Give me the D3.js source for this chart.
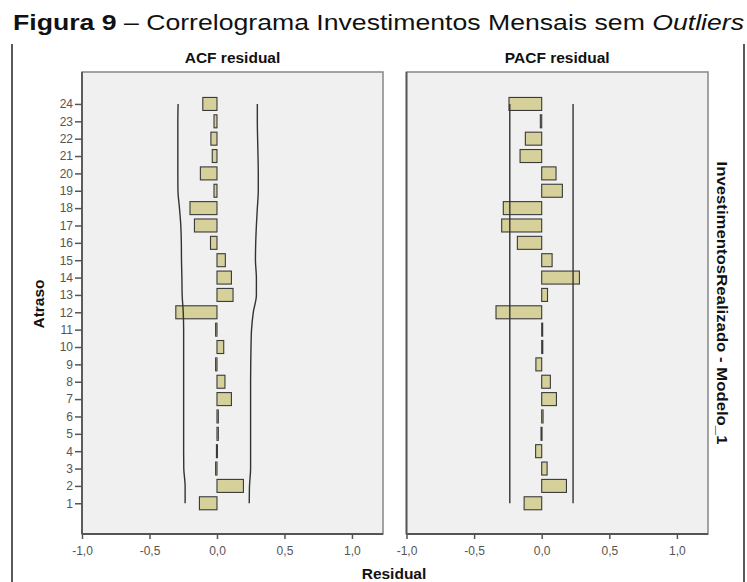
<!DOCTYPE html>
<html>
<head>
<meta charset="utf-8">
<script src="https://cdn.jsdelivr.net/npm/d3@7"></script>
<style>
  body { margin: 0; background: #fff; }
  svg { display: block; }
  text { font-family: "Liberation Sans", Arial, sans-serif; }
</style>
</head>
<body>
<svg id="chart" width="747" height="582"></svg>
<script>
// Lags (1..24) shown on the vertical axis
const lags = [1, 2, 3, 4, 5, 6, 7, 8, 9, 10, 11, 12, 13, 14, 15, 16, 17, 18, 19, 20, 21, 22, 23, 24];

// Residual autocorrelations by lag
const acfValues = [-0.13, 0.196, -0.01, -0.004, 0.01, 0.01, 0.107, 0.059, -0.01, 0.05, -0.01, -0.305,
                   0.119, 0.107, 0.062, -0.048, -0.167, -0.2, -0.022, -0.123, -0.035, -0.045, -0.022, -0.105];
// ACF confidence limits by lag
const acfUpper = [0.239, 0.241, 0.249, 0.249, 0.249, 0.249, 0.249, 0.249, 0.250, 0.252, 0.256, 0.269,
                  0.292, 0.292, 0.285, 0.287, 0.292, 0.299, 0.306, 0.306, 0.304, 0.301, 0.299, 0.299];
const acfLower = [-0.236, -0.236, -0.246, -0.247, -0.247, -0.247, -0.247, -0.247, -0.247, -0.247, -0.247, -0.25,
                  -0.258, -0.26, -0.263, -0.264, -0.268, -0.278, -0.289, -0.29, -0.29, -0.29, -0.29, -0.288];

// Residual partial autocorrelations by lag
const pacfValues = [-0.13, 0.183, 0.04, -0.045, -0.005, 0.01, 0.109, 0.064, -0.043, 0.008, 0.004, -0.338,
                    0.043, 0.279, 0.077, -0.18, -0.296, -0.284, 0.153, 0.106, -0.16, -0.121, -0.01, -0.242];
// PACF confidence limits (constant over lags)
const pacfUpper = 0.232;
const pacfLower = -0.236;

// Horizontal axis ticks
const xTicks = [-1, -0.5, 0, 0.5, 1];

const locale = d3.formatLocale({ decimal: ",", thousands: ".", grouping: [3], currency: ["", ""], minus: "-" });
const fmt = locale.format(".1f");

const svg = d3.select("#chart");

const plotTop = 72, plotBottom = 534;
const y = d3.scaleLinear().domain([-0.77, 25.84]).range([plotBottom, plotTop]);
const barH = 13;

const panels = [
  { title: "ACF residual", values: acfValues, upper: acfUpper, lower: acfLower,
    x: d3.scaleLinear().domain([-1, 1.23]).range([82, 383]), leftAxis: true },
  { title: "PACF residual", values: pacfValues,
    upper: lags.map(() => pacfUpper), lower: lags.map(() => pacfLower),
    x: d3.scaleLinear().domain([-1, 1.23]).range([406.5, 708]), leftAxis: false }
];

// Outer frame sides
svg.append("line").attr("x1", 12).attr("x2", 12).attr("y1", 44).attr("y2", 582)
  .attr("stroke", "#222").attr("stroke-width", 1.5);
svg.append("line").attr("x1", 744).attr("x2", 744).attr("y1", 44).attr("y2", 582)
  .attr("stroke", "#222").attr("stroke-width", 1.5);

// Title
svg.append("text")
  .attr("x", 13).attr("y", 30)
  .attr("font-size", 22).attr("fill", "#111")
  .attr("textLength", 731).attr("lengthAdjust", "spacingAndGlyphs")
  .call(t => {
    t.append("tspan").attr("font-weight", "bold").text("Figura 9");
    t.append("tspan").text(" – Correlograma Investimentos Mensais sem ");
    t.append("tspan").attr("font-style", "italic").text("Outliers");
  });

panels.forEach(p => {
  const x = p.x;
  const [x0, x1] = x.range();
  const g = svg.append("g");

  g.append("rect")
    .attr("x", x0).attr("y", plotTop)
    .attr("width", x1 - x0).attr("height", plotBottom - plotTop)
    .attr("fill", "#f0f0f0").attr("stroke", "#8e8e8e").attr("stroke-width", 1.6);

  g.append("text")
    .attr("x", (x0 + x1) / 2).attr("y", 63)
    .attr("text-anchor", "middle").attr("font-weight", "bold")
    .attr("font-size", 15.5).attr("fill", "#111")
    .text(p.title);

  // Bars
  g.selectAll("rect.bar").data(lags).join("rect")
    .attr("class", "bar")
    .attr("x", (d, i) => Math.min(x(0), x(p.values[i])))
    .attr("width", (d, i) => Math.max(1, Math.abs(x(p.values[i]) - x(0))))
    .attr("y", d => y(d) - barH / 2)
    .attr("height", barH)
    .attr("fill", "#d6d09b").attr("stroke", "#3a3a3a").attr("stroke-width", 1.1);

  // Confidence limits
  const line = d3.line().x(d => x(d[0])).y(d => y(d[1])).curve(d3.curveMonotoneY);
  [p.upper, p.lower].forEach(arr => {
    g.append("path")
      .datum(lags.map((l, i) => [arr[i], l]))
      .attr("d", line)
      .attr("fill", "none").attr("stroke", "#333").attr("stroke-width", 1.4);
  });

  // Bottom axis
  const ax = g.append("g").attr("transform", `translate(0,${plotBottom})`)
    .call(d3.axisBottom(x).tickValues(xTicks).tickSize(5).tickSizeOuter(0).tickFormat(fmt));
  ax.select(".domain").remove();
  ax.selectAll(".tick line").attr("stroke", "#555").attr("stroke-width", 1.5);
  ax.selectAll(".tick text").attr("font-size", 12).attr("fill", "#555")
    .attr("font-family", "'Liberation Sans', Arial, sans-serif").attr("dy", "1.05em");

  g.append("line").attr("x1", x0).attr("x2", x1).attr("y1", plotBottom).attr("y2", plotBottom)
    .attr("stroke", "#555").attr("stroke-width", 1.8);
  g.append("line").attr("x1", x0).attr("x2", x0).attr("y1", plotTop).attr("y2", plotBottom)
    .attr("stroke", "#555").attr("stroke-width", 1.8);

  if (p.leftAxis) {
    const ay = g.append("g").attr("transform", `translate(${x0},0)`)
      .call(d3.axisLeft(y).tickValues(lags).tickSize(7).tickSizeOuter(0).tickFormat(d3.format("d")));
    ay.select(".domain").remove();
    ay.selectAll(".tick line").attr("stroke", "#555").attr("stroke-width", 1.5);
    ay.selectAll(".tick text").attr("font-size", 12).attr("fill", "#555")
      .attr("font-family", "'Liberation Sans', Arial, sans-serif").attr("x", -9);
  }
});

// Axis titles
svg.append("text")
  .attr("transform", "translate(44,304) rotate(-90)")
  .attr("text-anchor", "middle").attr("font-weight", "bold")
  .attr("font-size", 15.5).attr("fill", "#111")
  .text("Atraso");

svg.append("text")
  .attr("x", 394).attr("y", 579)
  .attr("text-anchor", "middle").attr("font-weight", "bold")
  .attr("font-size", 15.5).attr("fill", "#111")
  .text("Residual");

svg.append("text")
  .attr("transform", "translate(717,303) rotate(90)")
  .attr("text-anchor", "middle").attr("font-weight", "bold")
  .attr("font-size", 15.5).attr("fill", "#111")
  .attr("textLength", 283).attr("lengthAdjust", "spacingAndGlyphs")
  .text("InvestimentosRealizado - Modelo_1");
</script>
</body>
</html>
